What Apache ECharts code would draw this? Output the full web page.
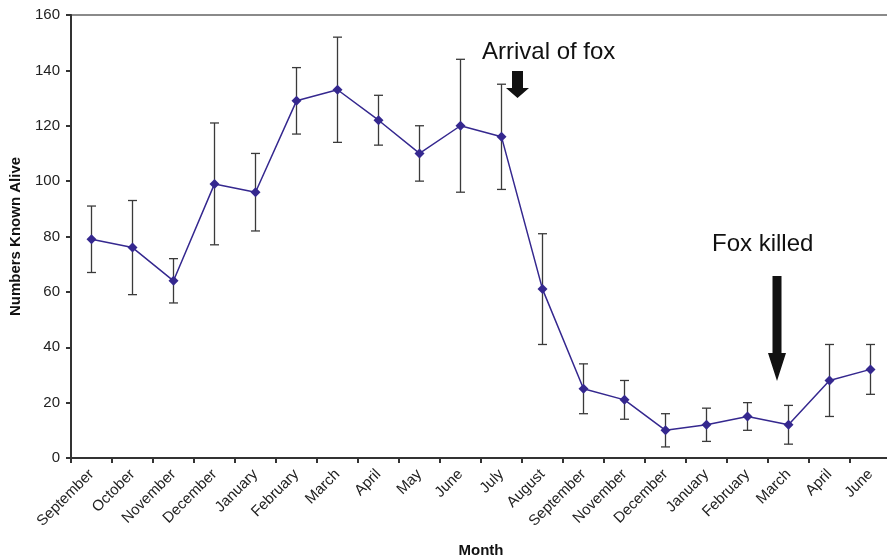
<!DOCTYPE html>
<html><head><meta charset="utf-8">
<script src="https://cdn.jsdelivr.net/npm/echarts@6/dist/echarts.min.js"></script>
<style>html,body{margin:0;padding:0;background:#fff}#c{width:887px;height:559px}</style>
</head><body><div id="c"></div>
<script>
const months = ['September','October','November','December','January','February','March','April','May','June','July','August','September','November','December','January','February','March','April','June'];
const alive = [79,76,64,99,96,129,133,122,110,120,116,61,25,21,10,12,15,12,28,32];
const lower = [67,59,56,77,82,117,114,113,100,96,97,41,16,14,4,6,10,5,15,23];
const upper = [91,93,72,121,110,141,152,131,120,144,135,81,34,28,16,18,20,19,41,41];
const yTicks = [0,20,40,60,80,100,120,140,160];

const FONT = '"Liberation Sans", Arial, sans-serif';
const chart = echarts.init(document.getElementById('c'), null, {renderer:'canvas'});
const errData = months.map((m,i)=>[i, lower[i], upper[i]]);
chart.setOption({
  animation:false,
  backgroundColor:'#fff',
  grid:{left:71, top:15, width:820, height:443, outerBoundsMode:'none', containLabel:false,
        show:true, borderColor:'#8a8a8a', borderWidth:2, backgroundColor:'transparent'},
  xAxis:{
    type:'category', data:months, boundaryGap:true,
    name:'Month', nameLocation:'middle', nameGap:85,
    nameTextStyle:{fontFamily:FONT, fontWeight:'bold', fontSize:15, color:'#111'},
    axisLine:{lineStyle:{color:'#333', width:2}},
    axisTick:{show:true, length:5, lineStyle:{color:'#333', width:2}},
    axisLabel:{rotate:45, interval:0, fontFamily:FONT, fontSize:15, color:'#222', margin:14},
    splitLine:{show:false}
  },
  yAxis:{
    type:'value', min:0, max:160, interval:20,
    name:'Numbers Known Alive', nameLocation:'middle', nameGap:48,
    nameTextStyle:{fontFamily:FONT, fontWeight:'bold', fontSize:15, color:'#111'},
    axisLine:{show:true, lineStyle:{color:'#333', width:2}},
    axisTick:{show:true, length:5, lineStyle:{color:'#333', width:2}},
    axisLabel:{fontFamily:FONT, fontSize:15, color:'#222', margin:11,
      formatter:(v)=> yTicks.includes(v) ? String(v) : ''},
    splitLine:{show:false}
  },
  series:[
    {
      type:'custom',
      data:errData,
      z:1,
      renderItem:(params, api)=>{
        const x = api.value(0);
        const lo = api.coord([x, api.value(1)]);
        const hi = api.coord([x, api.value(2)]);
        const hw = 4.5;
        const st = {stroke:'#3a3a3a', lineWidth:1.3};
        return {type:'group', children:[
          {type:'line', shape:{x1:lo[0], y1:lo[1], x2:hi[0], y2:hi[1]}, style:st},
          {type:'line', shape:{x1:lo[0]-hw, y1:lo[1], x2:lo[0]+hw, y2:lo[1]}, style:st},
          {type:'line', shape:{x1:hi[0]-hw, y1:hi[1], x2:hi[0]+hw, y2:hi[1]}, style:st}
        ]};
      }
    },
    {
      type:'line', data:alive, z:3,
      symbol:'diamond', symbolSize:10,
      lineStyle:{color:'#35288f', width:1.5},
      itemStyle:{color:'#35288f'}
    }
  ],
  graphic:[
    {type:'text', left:482, top:40, style:{text:'Arrival of fox', font:'24px '+FONT, fill:'#111'}},
    {type:'polygon', shape:{points:[[512,71],[523,71],[523,88],[529,88],[517.5,98],[506,88],[512,88]]}, style:{fill:'#111'}},
    {type:'text', left:712, top:232, style:{text:'Fox killed', font:'24px '+FONT, fill:'#111'}},
    {type:'polygon', shape:{points:[[772.5,276],[781.5,276],[781.5,353],[786,353],[777,381],[768,353],[772.5,353]]}, style:{fill:'#111'}}
  ]
});
</script></body></html>
